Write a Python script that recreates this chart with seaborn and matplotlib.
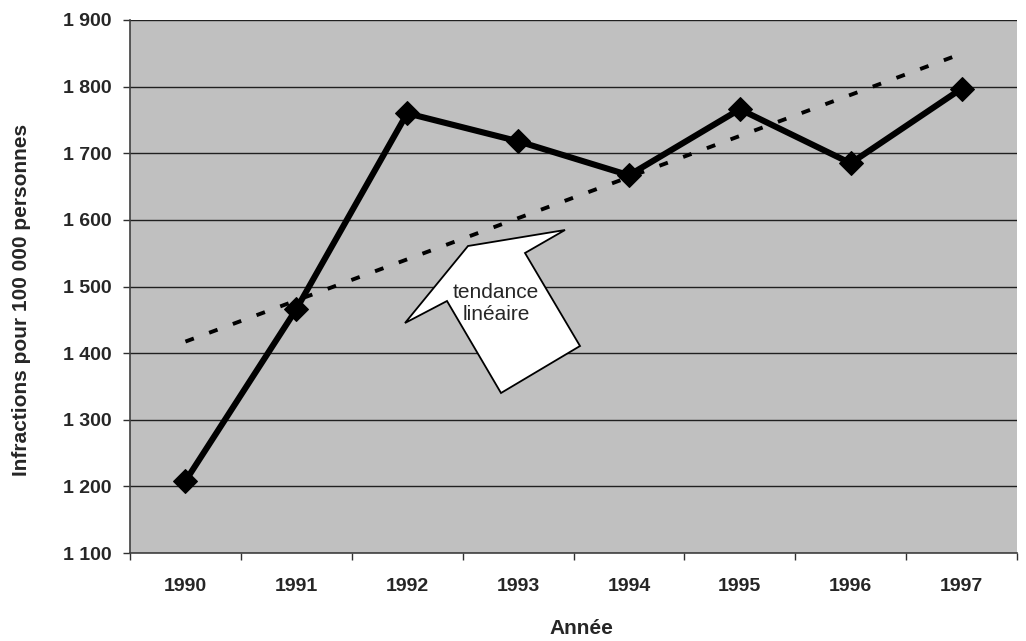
import numpy as np
import pandas as pd
import matplotlib
matplotlib.use('Agg')
import matplotlib.pyplot as plt
import matplotlib.ticker as mticker
from matplotlib.patches import Polygon
import seaborn as sns

years = [1990, 1991, 1992, 1993, 1994, 1995, 1996, 1997]
infractions = [1208, 1466, 1760, 1718, 1667, 1766, 1685, 1797]
y_ticks = [1100, 1200, 1300, 1400, 1500, 1600, 1700, 1800, 1900]

df = pd.DataFrame({'Année': years, 'Infractions': infractions})

sns.set_theme(style='white')
plt.rcParams['font.family'] = ['Liberation Sans', 'DejaVu Sans']

fig = plt.figure(figsize=(10.26, 6.41), dpi=100)
ax = fig.add_axes([130 / 1026, 88 / 641, 887 / 1026, 533 / 641])
ax.set_facecolor('#c0c0c0')

# trend line (linear regression)
sns.regplot(data=df, x='Année', y='Infractions', ci=None, scatter=False, ax=ax,
            line_kws=dict(color='black', linewidth=2.8, linestyle=(0, (2.3, 4.2))))

sns.lineplot(data=df, x='Année', y='Infractions', ax=ax, color='black', linewidth=4.4,
             marker='D', markersize=12, markeredgecolor='black', markerfacecolor='black')

ax.set_xlim(years[0] - 0.5, years[-1] + 0.5)
ax.set_ylim(y_ticks[0], y_ticks[-1])
ax.set_yticks(y_ticks)
ax.yaxis.set_major_formatter(mticker.FuncFormatter(lambda v, p: f'{int(v):,}'.replace(',', ' ')))
ax.yaxis.grid(True, color='#202020', linewidth=1.0)
ax.set_axisbelow(True)

# major ticks between categories, labels centered
ax.set_xticks([y - 0.5 for y in years] + [years[-1] + 0.5])
ax.set_xticklabels([])
ax.set_xticks(years, minor=True)
ax.set_xticklabels([str(y) for y in years], minor=True)
ax.tick_params(axis='x', which='major', direction='out', length=5, width=1, color='#303030', bottom=True)
ax.tick_params(axis='x', which='minor', length=0, pad=18, labelsize=14)
ax.tick_params(axis='y', direction='out', length=5, width=1, color='#303030', left=True, pad=8, labelsize=14)
for lab in ax.get_xticklabels(minor=True) + ax.get_yticklabels():
    lab.set_fontweight('bold')

for s in ['top', 'right']:
    ax.spines[s].set_visible(False)
for s in ['left', 'bottom']:
    ax.spines[s].set_color('#404040')
    ax.spines[s].set_linewidth(1.2)

ax.set_xlabel('Année', fontsize=15, fontweight='bold')
ax.set_ylabel('Infractions pour 100 000 personnes', fontsize=15, fontweight='bold')
ax.xaxis.set_label_coords((581 - 130) / 887, -(629 - 553) / 533)
ax.yaxis.set_label_coords((22 - 130) / 887, (553 - 300) / 533)
ax.xaxis.label.set_va('center')
ax.yaxis.label.set_va('center')

# block arrow callout
pts_px = [(565, 230), (468, 246), (405, 323), (447, 301), (501, 393), (580, 346), (525, 253)]
pts = [((px - 130) / 887, (553 - py) / 533) for px, py in pts_px]
ax.add_patch(Polygon(pts, closed=True, transform=ax.transAxes, facecolor='white',
                     edgecolor='black', linewidth=1.3, zorder=5))
ax.text((496 - 130) / 887, (553 - 303) / 533, 'tendance\nlinéaire', transform=ax.transAxes,
        ha='center', va='center', fontsize=15, linespacing=1.2, zorder=6)

fig.savefig('out.png', dpi=100)
